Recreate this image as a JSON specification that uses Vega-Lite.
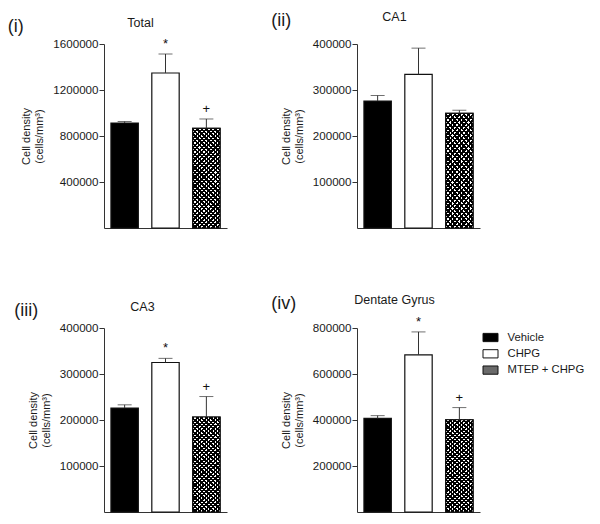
{
  "$schema": "https://vega.github.io/schema/vega-lite/v6.json",
  "padding": {"left": 7, "top": 10, "right": 0, "bottom": 0},
  "params": [
    {"name": "hatchA", "value": {"gradient": "linear", "x1": 0, "y1": 0, "x2": 0.326, "y2": 1.185, "stops": [{"offset":0,"color":"black"},{"offset":0.0179,"color":"black"},{"offset":0.0179,"color":"white"},{"offset":0.0357,"color":"white"},{"offset":0.0357,"color":"black"},{"offset":0.0536,"color":"black"},{"offset":0.0536,"color":"white"},{"offset":0.0714,"color":"white"},{"offset":0.0714,"color":"black"},{"offset":0.0893,"color":"black"},{"offset":0.0893,"color":"white"},{"offset":0.1071,"color":"white"},{"offset":0.1071,"color":"black"},{"offset":0.125,"color":"black"},{"offset":0.125,"color":"white"},{"offset":0.1429,"color":"white"},{"offset":0.1429,"color":"black"},{"offset":0.1607,"color":"black"},{"offset":0.1607,"color":"white"},{"offset":0.1786,"color":"white"},{"offset":0.1786,"color":"black"},{"offset":0.1964,"color":"black"},{"offset":0.1964,"color":"white"},{"offset":0.2143,"color":"white"},{"offset":0.2143,"color":"black"},{"offset":0.2321,"color":"black"},{"offset":0.2321,"color":"white"},{"offset":0.25,"color":"white"},{"offset":0.25,"color":"black"},{"offset":0.2679,"color":"black"},{"offset":0.2679,"color":"white"},{"offset":0.2857,"color":"white"},{"offset":0.2857,"color":"black"},{"offset":0.3036,"color":"black"},{"offset":0.3036,"color":"white"},{"offset":0.3214,"color":"white"},{"offset":0.3214,"color":"black"},{"offset":0.3393,"color":"black"},{"offset":0.3393,"color":"white"},{"offset":0.3571,"color":"white"},{"offset":0.3571,"color":"black"},{"offset":0.375,"color":"black"},{"offset":0.375,"color":"white"},{"offset":0.3929,"color":"white"},{"offset":0.3929,"color":"black"},{"offset":0.4107,"color":"black"},{"offset":0.4107,"color":"white"},{"offset":0.4286,"color":"white"},{"offset":0.4286,"color":"black"},{"offset":0.4464,"color":"black"},{"offset":0.4464,"color":"white"},{"offset":0.4643,"color":"white"},{"offset":0.4643,"color":"black"},{"offset":0.4821,"color":"black"},{"offset":0.4821,"color":"white"},{"offset":0.5,"color":"white"},{"offset":0.5,"color":"black"},{"offset":0.5179,"color":"black"},{"offset":0.5179,"color":"white"},{"offset":0.5357,"color":"white"},{"offset":0.5357,"color":"black"},{"offset":0.5536,"color":"black"},{"offset":0.5536,"color":"white"},{"offset":0.5714,"color":"white"},{"offset":0.5714,"color":"black"},{"offset":0.5893,"color":"black"},{"offset":0.5893,"color":"white"},{"offset":0.6071,"color":"white"},{"offset":0.6071,"color":"black"},{"offset":0.625,"color":"black"},{"offset":0.625,"color":"white"},{"offset":0.6429,"color":"white"},{"offset":0.6429,"color":"black"},{"offset":0.6607,"color":"black"},{"offset":0.6607,"color":"white"},{"offset":0.6786,"color":"white"},{"offset":0.6786,"color":"black"},{"offset":0.6964,"color":"black"},{"offset":0.6964,"color":"white"},{"offset":0.7143,"color":"white"},{"offset":0.7143,"color":"black"},{"offset":0.7321,"color":"black"},{"offset":0.7321,"color":"white"},{"offset":0.75,"color":"white"},{"offset":0.75,"color":"black"},{"offset":0.7679,"color":"black"},{"offset":0.7679,"color":"white"},{"offset":0.7857,"color":"white"},{"offset":0.7857,"color":"black"},{"offset":0.8036,"color":"black"},{"offset":0.8036,"color":"white"},{"offset":0.8214,"color":"white"},{"offset":0.8214,"color":"black"},{"offset":0.8393,"color":"black"},{"offset":0.8393,"color":"white"},{"offset":0.8571,"color":"white"},{"offset":0.8571,"color":"black"},{"offset":0.875,"color":"black"},{"offset":0.875,"color":"white"},{"offset":0.8929,"color":"white"},{"offset":0.8929,"color":"black"},{"offset":0.9107,"color":"black"},{"offset":0.9107,"color":"white"},{"offset":0.9286,"color":"white"},{"offset":0.9286,"color":"black"},{"offset":0.9464,"color":"black"},{"offset":0.9464,"color":"white"},{"offset":0.9643,"color":"white"},{"offset":0.9643,"color":"black"},{"offset":0.9821,"color":"black"},{"offset":0.9821,"color":"white"},{"offset":1,"color":"white"}]}},
    {"name": "hatchB", "value": {"gradient": "linear", "x1": 1, "y1": 0, "x2": 0.674, "y2": 1.185, "stops": [{"offset":0,"color":"black"},{"offset":0.0179,"color":"black"},{"offset":0.0179,"color":"rgba(0,0,0,0)"},{"offset":0.0357,"color":"rgba(0,0,0,0)"},{"offset":0.0357,"color":"black"},{"offset":0.0536,"color":"black"},{"offset":0.0536,"color":"rgba(0,0,0,0)"},{"offset":0.0714,"color":"rgba(0,0,0,0)"},{"offset":0.0714,"color":"black"},{"offset":0.0893,"color":"black"},{"offset":0.0893,"color":"rgba(0,0,0,0)"},{"offset":0.1071,"color":"rgba(0,0,0,0)"},{"offset":0.1071,"color":"black"},{"offset":0.125,"color":"black"},{"offset":0.125,"color":"rgba(0,0,0,0)"},{"offset":0.1429,"color":"rgba(0,0,0,0)"},{"offset":0.1429,"color":"black"},{"offset":0.1607,"color":"black"},{"offset":0.1607,"color":"rgba(0,0,0,0)"},{"offset":0.1786,"color":"rgba(0,0,0,0)"},{"offset":0.1786,"color":"black"},{"offset":0.1964,"color":"black"},{"offset":0.1964,"color":"rgba(0,0,0,0)"},{"offset":0.2143,"color":"rgba(0,0,0,0)"},{"offset":0.2143,"color":"black"},{"offset":0.2321,"color":"black"},{"offset":0.2321,"color":"rgba(0,0,0,0)"},{"offset":0.25,"color":"rgba(0,0,0,0)"},{"offset":0.25,"color":"black"},{"offset":0.2679,"color":"black"},{"offset":0.2679,"color":"rgba(0,0,0,0)"},{"offset":0.2857,"color":"rgba(0,0,0,0)"},{"offset":0.2857,"color":"black"},{"offset":0.3036,"color":"black"},{"offset":0.3036,"color":"rgba(0,0,0,0)"},{"offset":0.3214,"color":"rgba(0,0,0,0)"},{"offset":0.3214,"color":"black"},{"offset":0.3393,"color":"black"},{"offset":0.3393,"color":"rgba(0,0,0,0)"},{"offset":0.3571,"color":"rgba(0,0,0,0)"},{"offset":0.3571,"color":"black"},{"offset":0.375,"color":"black"},{"offset":0.375,"color":"rgba(0,0,0,0)"},{"offset":0.3929,"color":"rgba(0,0,0,0)"},{"offset":0.3929,"color":"black"},{"offset":0.4107,"color":"black"},{"offset":0.4107,"color":"rgba(0,0,0,0)"},{"offset":0.4286,"color":"rgba(0,0,0,0)"},{"offset":0.4286,"color":"black"},{"offset":0.4464,"color":"black"},{"offset":0.4464,"color":"rgba(0,0,0,0)"},{"offset":0.4643,"color":"rgba(0,0,0,0)"},{"offset":0.4643,"color":"black"},{"offset":0.4821,"color":"black"},{"offset":0.4821,"color":"rgba(0,0,0,0)"},{"offset":0.5,"color":"rgba(0,0,0,0)"},{"offset":0.5,"color":"black"},{"offset":0.5179,"color":"black"},{"offset":0.5179,"color":"rgba(0,0,0,0)"},{"offset":0.5357,"color":"rgba(0,0,0,0)"},{"offset":0.5357,"color":"black"},{"offset":0.5536,"color":"black"},{"offset":0.5536,"color":"rgba(0,0,0,0)"},{"offset":0.5714,"color":"rgba(0,0,0,0)"},{"offset":0.5714,"color":"black"},{"offset":0.5893,"color":"black"},{"offset":0.5893,"color":"rgba(0,0,0,0)"},{"offset":0.6071,"color":"rgba(0,0,0,0)"},{"offset":0.6071,"color":"black"},{"offset":0.625,"color":"black"},{"offset":0.625,"color":"rgba(0,0,0,0)"},{"offset":0.6429,"color":"rgba(0,0,0,0)"},{"offset":0.6429,"color":"black"},{"offset":0.6607,"color":"black"},{"offset":0.6607,"color":"rgba(0,0,0,0)"},{"offset":0.6786,"color":"rgba(0,0,0,0)"},{"offset":0.6786,"color":"black"},{"offset":0.6964,"color":"black"},{"offset":0.6964,"color":"rgba(0,0,0,0)"},{"offset":0.7143,"color":"rgba(0,0,0,0)"},{"offset":0.7143,"color":"black"},{"offset":0.7321,"color":"black"},{"offset":0.7321,"color":"rgba(0,0,0,0)"},{"offset":0.75,"color":"rgba(0,0,0,0)"},{"offset":0.75,"color":"black"},{"offset":0.7679,"color":"black"},{"offset":0.7679,"color":"rgba(0,0,0,0)"},{"offset":0.7857,"color":"rgba(0,0,0,0)"},{"offset":0.7857,"color":"black"},{"offset":0.8036,"color":"black"},{"offset":0.8036,"color":"rgba(0,0,0,0)"},{"offset":0.8214,"color":"rgba(0,0,0,0)"},{"offset":0.8214,"color":"black"},{"offset":0.8393,"color":"black"},{"offset":0.8393,"color":"rgba(0,0,0,0)"},{"offset":0.8571,"color":"rgba(0,0,0,0)"},{"offset":0.8571,"color":"black"},{"offset":0.875,"color":"black"},{"offset":0.875,"color":"rgba(0,0,0,0)"},{"offset":0.8929,"color":"rgba(0,0,0,0)"},{"offset":0.8929,"color":"black"},{"offset":0.9107,"color":"black"},{"offset":0.9107,"color":"rgba(0,0,0,0)"},{"offset":0.9286,"color":"rgba(0,0,0,0)"},{"offset":0.9286,"color":"black"},{"offset":0.9464,"color":"black"},{"offset":0.9464,"color":"rgba(0,0,0,0)"},{"offset":0.9643,"color":"rgba(0,0,0,0)"},{"offset":0.9643,"color":"black"},{"offset":0.9821,"color":"black"},{"offset":0.9821,"color":"rgba(0,0,0,0)"},{"offset":1,"color":"rgba(0,0,0,0)"}]}}
  ],
  "datasets": {
    "cells": [
      {"region": "Total", "group": "Vehicle", "mean": 913000, "upper": 926000, "sig": ""},
      {"region": "Total", "group": "CHPG", "mean": 1348000, "upper": 1513000, "sig": "*"},
      {"region": "Total", "group": "MTEP + CHPG", "mean": 867000, "upper": 948000, "sig": "+"},
      {"region": "CA1", "group": "Vehicle", "mean": 276000, "upper": 288000, "sig": ""},
      {"region": "CA1", "group": "CHPG", "mean": 334000, "upper": 391000, "sig": ""},
      {"region": "CA1", "group": "MTEP + CHPG", "mean": 249000, "upper": 256000, "sig": ""},
      {"region": "CA3", "group": "Vehicle", "mean": 226000, "upper": 233000, "sig": ""},
      {"region": "CA3", "group": "CHPG", "mean": 325000, "upper": 334000, "sig": "*"},
      {"region": "CA3", "group": "MTEP + CHPG", "mean": 206500, "upper": 251000, "sig": "+"},
      {"region": "Dentate Gyrus", "group": "Vehicle", "mean": 407000, "upper": 419000, "sig": ""},
      {"region": "Dentate Gyrus", "group": "CHPG", "mean": 683000, "upper": 783000, "sig": "*"},
      {"region": "Dentate Gyrus", "group": "MTEP + CHPG", "mean": 401000, "upper": 454000, "sig": "+"}
    ]
  },
  "data": {"name": "cells"},
  "spacing": 65,
  "resolve": {"scale": {"fill": "independent"}, "legend": {"fill": "independent"}},
  "vconcat": [
    {
      "spacing": 44,
      "resolve": {"scale": {"fill": "independent"}, "legend": {"fill": "independent"}},
      "hconcat": [
        {
          "title": {"text": "(i)", "anchor": "start", "fontSize": 18, "offset": -19, "dx": -13},
          "vconcat": [
            {
              "width": 123, "height": 184,
              "title": {"text": "Total", "frame": "group", "anchor": "middle", "dx": -25, "offset": 9},
              "transform": [{"filter": "datum.region === 'Total'"}],
              "encoding": {
                "x": {"field": "group", "type": "nominal", "sort": ["Vehicle", "CHPG", "MTEP + CHPG"], "scale": {"paddingInner": 0.33, "paddingOuter": 0.17}, "axis": {"title": null}},
                "y": {"field": "mean", "type": "quantitative", "scale": {"domain": [0, 1600000], "nice": false}, "axis": {"values": [400000, 800000, 1200000, 1600000], "format": "d", "title": ["Cell density", "(cells/mm³)"]}}
              },
              "layer": [
                {"mark": {"type": "bar", "stroke": "#111", "strokeWidth": 1.2}, "encoding": {"fill": {"field": "group", "type": "nominal", "scale": {"domain": ["Vehicle", "CHPG", "MTEP + CHPG"], "range": ["black", "white", "#6a6a6a"]}, "legend": null}}},
                {"transform": [{"filter": "datum.group === 'MTEP + CHPG'"}], "mark": {"type": "bar", "fill": {"expr": "hatchA"}}},
                {"transform": [{"filter": "datum.group === 'MTEP + CHPG'"}], "mark": {"type": "bar", "fill": {"expr": "hatchB"}, "stroke": "#111", "strokeWidth": 1.2}},
                {"mark": {"type": "rule", "color": "#333", "strokeWidth": 1}, "encoding": {"y2": {"field": "upper"}}},
                {"mark": {"type": "tick", "orient": "horizontal", "size": 14, "thickness": 1, "color": "#333"}, "encoding": {"y": {"field": "upper", "type": "quantitative"}}},
                {"mark": {"type": "text", "baseline": "bottom", "dy": -3, "fontSize": 13, "color": "#111"}, "encoding": {"y": {"field": "upper", "type": "quantitative"}, "text": {"field": "sig"}}}
              ]
            }
          ]
        },
        {
          "title": {"text": "(ii)", "anchor": "start", "fontSize": 18, "offset": -19, "dx": -9},
          "vconcat": [
            {
              "width": 123, "height": 184,
              "title": {"text": "CA1", "frame": "group", "anchor": "middle", "dx": -24, "offset": 9},
              "transform": [{"filter": "datum.region === 'CA1'"}],
              "encoding": {
                "x": {"field": "group", "type": "nominal", "sort": ["Vehicle", "CHPG", "MTEP + CHPG"], "scale": {"paddingInner": 0.33, "paddingOuter": 0.17}, "axis": {"title": null}},
                "y": {"field": "mean", "type": "quantitative", "scale": {"domain": [0, 400000], "nice": false}, "axis": {"values": [100000, 200000, 300000, 400000], "format": "d", "title": ["Cell density", "(cells/mm³)"]}}
              },
              "layer": [
                {"mark": {"type": "bar", "stroke": "#111", "strokeWidth": 1.2}, "encoding": {"fill": {"field": "group", "type": "nominal", "scale": {"domain": ["Vehicle", "CHPG", "MTEP + CHPG"], "range": ["black", "white", "#6a6a6a"]}, "legend": null}}},
                {"transform": [{"filter": "datum.group === 'MTEP + CHPG'"}], "mark": {"type": "bar", "fill": {"expr": "hatchA"}}},
                {"transform": [{"filter": "datum.group === 'MTEP + CHPG'"}], "mark": {"type": "bar", "fill": {"expr": "hatchB"}, "stroke": "#111", "strokeWidth": 1.2}},
                {"mark": {"type": "rule", "color": "#333", "strokeWidth": 1}, "encoding": {"y2": {"field": "upper"}}},
                {"mark": {"type": "tick", "orient": "horizontal", "size": 14, "thickness": 1, "color": "#333"}, "encoding": {"y": {"field": "upper", "type": "quantitative"}}},
                {"mark": {"type": "text", "baseline": "bottom", "dy": -3, "fontSize": 13, "color": "#111"}, "encoding": {"y": {"field": "upper", "type": "quantitative"}, "text": {"field": "sig"}}}
              ]
            }
          ]
        }
      ]
    },
    {
      "spacing": 44,
      "resolve": {"scale": {"fill": "independent"}, "legend": {"fill": "independent"}},
      "hconcat": [
        {
          "title": {"text": "(iii)", "anchor": "start", "fontSize": 18, "offset": -19, "dx": -13},
          "vconcat": [
            {
              "width": 123, "height": 184,
              "title": {"text": "CA3", "frame": "group", "anchor": "middle", "dx": -23, "offset": 9},
              "transform": [{"filter": "datum.region === 'CA3'"}],
              "encoding": {
                "x": {"field": "group", "type": "nominal", "sort": ["Vehicle", "CHPG", "MTEP + CHPG"], "scale": {"paddingInner": 0.33, "paddingOuter": 0.17}, "axis": {"title": null}},
                "y": {"field": "mean", "type": "quantitative", "scale": {"domain": [0, 400000], "nice": false}, "axis": {"values": [100000, 200000, 300000, 400000], "format": "d", "title": ["Cell density", "(cells/mm³)"]}}
              },
              "layer": [
                {"mark": {"type": "bar", "stroke": "#111", "strokeWidth": 1.2}, "encoding": {"fill": {"field": "group", "type": "nominal", "scale": {"domain": ["Vehicle", "CHPG", "MTEP + CHPG"], "range": ["black", "white", "#6a6a6a"]}, "legend": null}}},
                {"transform": [{"filter": "datum.group === 'MTEP + CHPG'"}], "mark": {"type": "bar", "fill": {"expr": "hatchA"}}},
                {"transform": [{"filter": "datum.group === 'MTEP + CHPG'"}], "mark": {"type": "bar", "fill": {"expr": "hatchB"}, "stroke": "#111", "strokeWidth": 1.2}},
                {"mark": {"type": "rule", "color": "#333", "strokeWidth": 1}, "encoding": {"y2": {"field": "upper"}}},
                {"mark": {"type": "tick", "orient": "horizontal", "size": 14, "thickness": 1, "color": "#333"}, "encoding": {"y": {"field": "upper", "type": "quantitative"}}},
                {"mark": {"type": "text", "baseline": "bottom", "dy": -3, "fontSize": 13, "color": "#111"}, "encoding": {"y": {"field": "upper", "type": "quantitative"}, "text": {"field": "sig"}}}
              ]
            }
          ]
        },
        {
          "title": {"text": "(iv)", "anchor": "start", "fontSize": 18, "offset": -19, "dx": -9},
          "resolve": {"scale": {"fill": "independent"}, "legend": {"fill": "independent"}},
          "vconcat": [
            {
              "width": 123, "height": 184,
              "title": {"text": "Dentate Gyrus", "frame": "group", "anchor": "middle", "dx": -24, "offset": 9},
              "transform": [{"filter": "datum.region === 'Dentate Gyrus'"}],
              "encoding": {
                "x": {"field": "group", "type": "nominal", "sort": ["Vehicle", "CHPG", "MTEP + CHPG"], "scale": {"paddingInner": 0.33, "paddingOuter": 0.17}, "axis": {"title": null}},
                "y": {"field": "mean", "type": "quantitative", "scale": {"domain": [0, 800000], "nice": false}, "axis": {"values": [200000, 400000, 600000, 800000], "format": "d", "title": ["Cell density", "(cells/mm³)"]}}
              },
              "layer": [
                {"mark": {"type": "bar", "stroke": "#111", "strokeWidth": 1.2}, "encoding": {"fill": {"field": "group", "type": "nominal", "scale": {"domain": ["Vehicle", "CHPG", "MTEP + CHPG"], "range": ["black", "white", "#6a6a6a"]},
                  "legend": {
                    "title": null, "orient": "right", "offset": 1, "padding": 1.5,
                    "symbolType": "M-1,-0.55H1V0.55H-1Z", "symbolSize": 225,
                    "symbolStrokeColor": "#111", "symbolStrokeWidth": 1,
                    "labelFontSize": 11.3, "labelColor": "#1a1a1a", "labelOffset": 9, "rowPadding": 1.3
                  }}}},
                {"transform": [{"filter": "datum.group === 'MTEP + CHPG'"}], "mark": {"type": "bar", "fill": {"expr": "hatchA"}}},
                {"transform": [{"filter": "datum.group === 'MTEP + CHPG'"}], "mark": {"type": "bar", "fill": {"expr": "hatchB"}, "stroke": "#111", "strokeWidth": 1.2}},
                {"mark": {"type": "rule", "color": "#333", "strokeWidth": 1}, "encoding": {"y2": {"field": "upper"}}},
                {"mark": {"type": "tick", "orient": "horizontal", "size": 14, "thickness": 1, "color": "#333"}, "encoding": {"y": {"field": "upper", "type": "quantitative"}}},
                {"mark": {"type": "text", "baseline": "bottom", "dy": -3, "fontSize": 13, "color": "#111"}, "encoding": {"y": {"field": "upper", "type": "quantitative"}, "text": {"field": "sig"}}}
              ]
            }
          ]
        }
      ]
    }
  ],
  "config": {
    "font": "Liberation Sans",
    "view": {"stroke": null},
    "title": {"fontWeight": "normal", "fontSize": 12.5, "color": "#1a1a1a", "font": "Liberation Sans"},
    "axis": {"grid": false, "domainColor": "#333", "tickColor": "#333", "labelColor": "#1a1a1a", "titleColor": "#1a1a1a", "labelFont": "Liberation Sans", "titleFont": "Liberation Sans"},
    "axisY": {"tickSize": 5, "labelFontSize": 11.6, "labelPadding": 1, "titleFontSize": 11, "titleFontWeight": "normal", "titlePadding": 8, "titleLineHeight": 13},
    "axisX": {"labels": false, "ticks": false},
    "legend": {"labelFont": "Liberation Sans"}
  }
}
